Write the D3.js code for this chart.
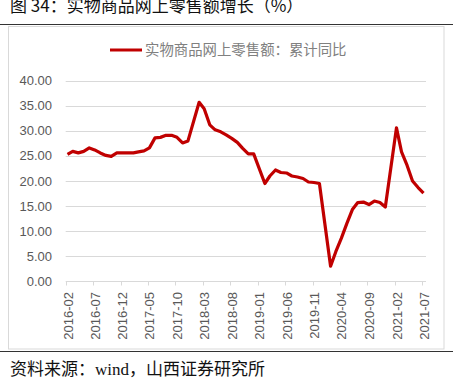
<!DOCTYPE html>
<html>
<head>
  <meta charset="utf-8">
  <script src="https://d3js.org/d3.v7.min.js"></script>
  <style>
    body { margin: 0; background: #fff; }
    .grid line { stroke: #d9d9d9; stroke-width: 1px; }
    .ylab text, .xlab text { fill: #595959; font-family: "Liberation Sans", Arial, sans-serif; font-size: 13px; }
  </style>
</head>
<body>
  <script>
    // monthly cumulative YoY (%), Jan is merged into Feb so no January points
    var months = [
      "2016-02","2016-03","2016-04","2016-05","2016-06","2016-07","2016-08","2016-09","2016-10","2016-11","2016-12",
      "2017-02","2017-03","2017-04","2017-05","2017-06","2017-07","2017-08","2017-09","2017-10","2017-11","2017-12",
      "2018-02","2018-03","2018-04","2018-05","2018-06","2018-07","2018-08","2018-09","2018-10","2018-11","2018-12",
      "2019-02","2019-03","2019-04","2019-05","2019-06","2019-07","2019-08","2019-09","2019-10","2019-11","2019-12",
      "2020-02","2020-03","2020-04","2020-05","2020-06","2020-07","2020-08","2020-09","2020-10","2020-11","2020-12",
      "2021-02","2021-03","2021-04","2021-05","2021-06","2021-07"
    ];
    var growth = [
      25.3, 25.9, 25.6, 25.9, 26.6, 26.2, 25.6, 25.1, 24.9, 25.6, 25.6,
      25.6, 25.8, 26.0, 26.6, 28.6, 28.7, 29.1, 29.1, 28.7, 27.6, 28.0,
      35.7, 34.4, 31.2, 30.2, 29.8, 29.2, 28.5, 27.7, 26.5, 25.4, 25.4,
      19.5, 21.0, 22.2, 21.7, 21.6, 21.0, 20.8, 20.5, 19.8, 19.7, 19.5,
      3.0, 5.9, 8.6, 11.5, 14.3, 15.7, 15.8, 15.3, 16.0, 15.7, 14.8,
      30.6, 25.8, 23.1, 20.0, 18.7, 17.6
    ];
    var tickLabels = ["2016-02","2016-07","2016-12","2017-05","2017-10","2018-03","2018-08",
                      "2019-01","2019-06","2019-11","2020-04","2020-09","2021-02","2021-07"];
    var yTicks = [0, 5, 10, 15, 20, 25, 30, 35, 40];
    var seriesName = "实物商品网上零售额：累计同比";

    var W = 467, H = 383;
    var parse = d3.timeParse("%Y-%m");
    var data = months.map(function(m, i) { return {date: parse(m), value: growth[i]}; });

    var svg = d3.select("body").append("svg")
        .attr("width", W)
        .attr("height", H);

    // title + rules
    svg.append("text")
        .attr("x", 10).attr("y", 12)
        .style("font-family", "'Noto Sans CJK SC', sans-serif")
        .style("font-size", "17px")
        .style("fill", "#111")
        .text("图 34：实物商品网上零售额增长（%）");
    svg.append("line").attr("x1", 0).attr("x2", 453).attr("y1", 24.5).attr("y2", 24.5)
        .style("stroke", "#333").style("stroke-width", 1.2);

    // chart frame
    svg.append("rect").attr("x", 8.5).attr("y", 26.5).attr("width", 435.5).attr("height", 322.5)
        .style("fill", "none").style("stroke", "#d9d9d9");

    svg.append("line").attr("x1", 0).attr("x2", 453).attr("y1", 351.5).attr("y2", 351.5)
        .style("stroke", "#333").style("stroke-width", 1.2);
    svg.append("text")
        .attr("x", 10).attr("y", 375)
        .style("font-family", "'Liberation Serif', 'Noto Sans CJK SC', serif")
        .style("font-size", "17px")
        .style("fill", "#111")
        .text("资料来源：wind，山西证券研究所");

    // scales
    var x = d3.scaleTime()
        .domain([parse("2016-02"), parse("2021-07")])
        .range([67.5, 423.5]);
    var y = d3.scaleLinear().domain([0, 40]).range([281.3, 80.7]);
    var x0 = 65.7, x1 = 426;

    // gridlines
    svg.append("g").attr("class", "grid")
        .selectAll("line")
        .data(yTicks.filter(function(d) { return d > 0; }))
        .enter().append("line")
        .attr("x1", x0).attr("x2", x1)
        .attr("y1", function(d) { return Math.round(y(d)) + 0.5; })
        .attr("y2", function(d) { return Math.round(y(d)) + 0.5; });

    // y labels
    svg.append("g").attr("class", "ylab")
        .selectAll("text")
        .data(yTicks)
        .enter().append("text")
        .attr("x", 52)
        .attr("y", function(d) { return y(d); })
        .attr("dy", "0.35em")
        .attr("text-anchor", "end")
        .text(function(d) { return d3.format(".2f")(d); });

    // x axis line + ticks
    var yb = Math.round(y(0)) + 0.5;
    svg.append("line").attr("x1", x0).attr("x2", x1).attr("y1", yb).attr("y2", yb)
        .style("stroke", "#d9d9d9");
    var xt = svg.append("g").attr("class", "xlab");
    xt.selectAll("line")
        .data(tickLabels)
        .enter().append("line")
        .attr("x1", function(d) { return Math.round(x(parse(d)) - 1.5) + 0.5; })
        .attr("x2", function(d) { return Math.round(x(parse(d)) - 1.5) + 0.5; })
        .attr("y1", yb).attr("y2", yb + 4)
        .style("stroke", "#d9d9d9");
    xt.selectAll("text")
        .data(tickLabels)
        .enter().append("text")
        .attr("transform", function(d) { return "translate(" + (x(parse(d)) + 0.5) + ",292) rotate(-90)"; })
        .attr("dy", "0.35em")
        .attr("text-anchor", "end")
        .text(function(d) { return d; });

    // series
    var line = d3.line()
        .x(function(d) { return x(d.date); })
        .y(function(d) { return y(d.value); });
    svg.append("path")
        .datum(data)
        .attr("d", line)
        .style("fill", "none")
        .style("stroke", "#c00000")
        .style("stroke-width", 3.2)
        .style("stroke-linejoin", "round");

    // legend
    svg.append("line").attr("x1", 110).attr("x2", 142).attr("y1", 50).attr("y2", 50)
        .style("stroke", "#c00000").style("stroke-width", 3);
    svg.append("text")
        .attr("x", 145).attr("y", 50)
        .attr("dy", "0.35em")
        .style("font-family", "'Noto Sans CJK SC', sans-serif")
        .style("font-size", "14.4px")
        .style("fill", "#808080")
        .text(seriesName);
  </script>
</body>
</html>
